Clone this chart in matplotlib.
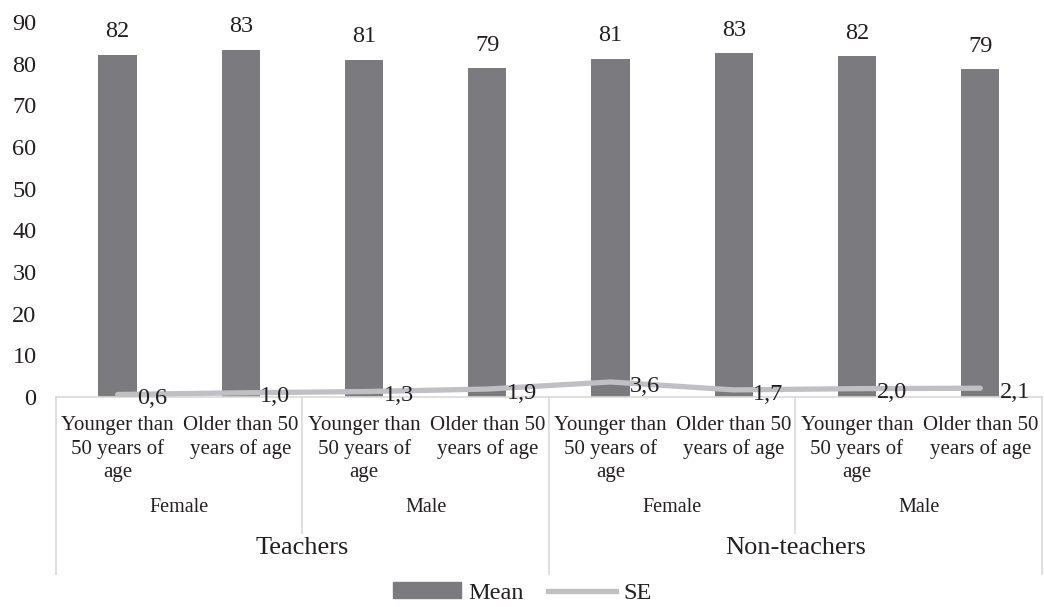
# Bar chart of mean scores with SE line, grouped by job, sex and age
import matplotlib.pyplot as plt
from matplotlib.transforms import blended_transform_factory
from matplotlib.lines import Line2D
from matplotlib.patches import Patch

# Data
age_labels = ['Younger than\n50 years of\nage', 'Older than 50\nyears of age'] * 4
sex_labels = ['Female', 'Male', 'Female', 'Male']
job_labels = ['Teachers', 'Non-teachers']
mean_values = [82.1, 83.3, 80.9, 78.9, 81.2, 82.5, 81.8, 78.7]
mean_labels = ['82', '83', '81', '79', '81', '83', '82', '79']
se_values = [0.6, 1.0, 1.3, 1.9, 3.6, 1.7, 2.0, 2.1]
y_ticks = [0, 10, 20, 30, 40, 50, 60, 70, 80, 90]

bar_color = '#7b7b7f'
se_color = '#c0c0c4'
text_color = '#231f20'
sep_color = '#d9d9d9'

plt.rcParams['font.family'] = ['Liberation Serif', 'DejaVu Serif']
plt.rcParams['text.color'] = text_color

fig = plt.figure(figsize=(10.44, 6.07), dpi=100)
ax = fig.add_axes([0.0536, 0.346, 0.9444, 0.6178])

x = list(range(len(mean_values)))

# Mean bars with value labels
ax.bar(x, mean_values, width=0.31, color=bar_color, zorder=2)
for xi, v, lab in zip(x, mean_values, mean_labels):
    ax.annotate(lab, (xi, v), xytext=(0, 9), textcoords='offset points',
                ha='center', va='bottom', fontsize=17.5)

# SE line with value labels
ax.plot(x, se_values, color=se_color, linewidth=3.8, solid_capstyle='round',
        zorder=3)
for xi, v in zip(x, se_values):
    ax.annotate(('%.1f' % v).replace('.', ','), (xi, v), xytext=(14, -3),
                textcoords='offset points', ha='left', va='center',
                fontsize=17.5)

ax.set_xlim(-0.5, 7.5)
ax.set_ylim(0, 90)
ax.set_yticks(y_ticks)
ax.tick_params(axis='y', length=0, pad=14, labelsize=17.5, colors=text_color)
ax.set_xticks([])
for side in ['left', 'right', 'top']:
    ax.spines[side].set_visible(False)
ax.spines['bottom'].set_color(sep_color)
ax.spines['bottom'].set_linewidth(1.2)

# Multi-level category axis
trans = blended_transform_factory(ax.transData, ax.transAxes)
for xi, lab in zip(x, age_labels):
    ax.text(xi, -0.052, lab, transform=trans, ha='center', va='top',
            fontsize=15, linespacing=1.25)
for i, lab in enumerate(sex_labels):
    ax.text(2 * i + 0.5, -0.296, lab, transform=trans, ha='center',
            va='center', fontsize=14.5)
for i, lab in enumerate(job_labels):
    ax.text(4 * i + 1.5, -0.403, lab, transform=trans, ha='center',
            va='center', fontsize=19)

# Separator lines between groups
for xs in [1.5, 5.5]:
    ax.plot([xs, xs], [0, -0.363], transform=trans, color=sep_color,
            linewidth=1.2, clip_on=False)
for xs in [-0.5, 3.5, 7.5]:
    ax.plot([xs, xs], [0, -0.472], transform=trans, color=sep_color,
            linewidth=1.2, clip_on=False)

# Legend
handles = [Patch(color=bar_color, label='Mean'),
           Line2D([0], [0], color=se_color, linewidth=3.8, label='SE')]
fig.legend(handles=handles, loc='center', bbox_to_anchor=(0.5, 0.023),
           ncol=2, frameon=False, fontsize=17.5, handlelength=2.8,
           handleheight=0.6, handletextpad=0.3, columnspacing=1.0)

fig.savefig('out.png', dpi=100)
